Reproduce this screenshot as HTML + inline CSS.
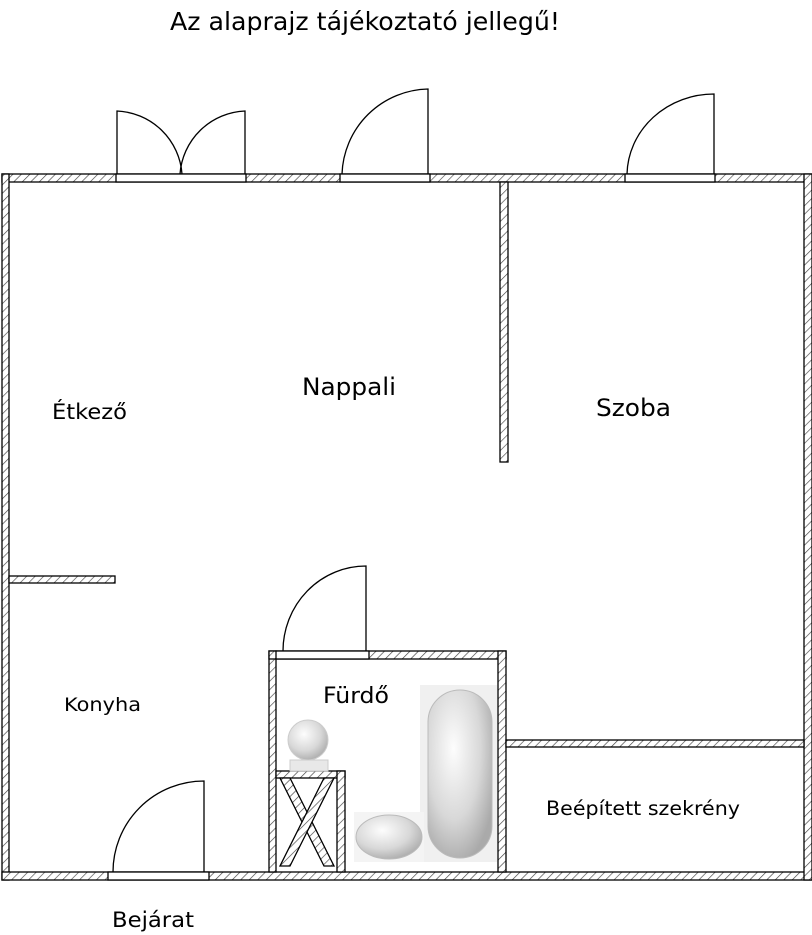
<!DOCTYPE html>
<html><head><meta charset="utf-8"><style>
html,body{margin:0;padding:0;background:#fff;}
svg{display:block}
text{font-family:"DejaVu Sans","Liberation Sans",sans-serif;fill:#000}
</style></head><body>
<svg width="812" height="935" viewBox="0 0 812 935" xmlns="http://www.w3.org/2000/svg">
<defs>
<pattern id="h" width="6" height="6" patternUnits="userSpaceOnUse" patternTransform="rotate(45)">
<rect width="6" height="6" fill="#fff"/><line x1="0" y1="0" x2="0" y2="6" stroke="#444" stroke-width="1.3"/>
</pattern>
<radialGradient id="g" cx="0.4" cy="0.35" r="0.7"><stop offset="0" stop-color="#fdfdfd"/><stop offset="0.6" stop-color="#d8d8d8"/><stop offset="1" stop-color="#aaa"/></radialGradient>
</defs>
<text x="365" y="30" font-size="25" text-anchor="middle" textLength="390" lengthAdjust="spacingAndGlyphs">Az alaprajz tájékoztató jellegű!</text>
<g fill="url(#h)" stroke="#000" stroke-width="1.3">
<rect x="2" y="174" width="810" height="8"/>
<rect x="2" y="174" width="7" height="706"/>
<rect x="2" y="872" width="810" height="8"/>
<rect x="804" y="174" width="8" height="706"/>
<rect x="500" y="182" width="8" height="280"/>
<rect x="9" y="576" width="106" height="7"/>
<rect x="269" y="651" width="7" height="221"/>
<rect x="269" y="651" width="237" height="8"/>
<rect x="498" y="651" width="8" height="221"/>
<rect x="506" y="740" width="298" height="7"/>
<rect x="276" y="771" width="69" height="7"/>
<rect x="337" y="771" width="8" height="101"/>
<polygon points="280,778 290,778 334,866 324,866"/>
<polygon points="324,778 334,778 290,866 280,866"/>
</g>
<g fill="#fff" stroke="#000" stroke-width="1.3">
<rect x="116" y="174" width="130" height="8"/>
<rect x="340" y="174" width="90" height="8"/>
<rect x="625" y="174" width="90" height="8"/>
<rect x="276" y="651" width="93" height="8"/>
<rect x="108" y="872" width="101" height="8"/>
</g>
<g fill="none" stroke="#000" stroke-width="1.3">
<path d="M117,174 V111 A68,68 0 0 1 182,174"/>
<path d="M245,174 V111 A68,68 0 0 0 180,174"/>
<path d="M428,174 V89 A88,88 0 0 0 342,174"/>
<path d="M714,174 V94 A87,82 0 0 0 627,174"/>
<path d="M366,651 V566 A83,85 0 0 0 283,651"/>
<path d="M204,872 V781 A91,91 0 0 0 113,872"/>
</g>
<rect x="420" y="685" width="77" height="177" fill="#f0f0f0"/>
<rect x="428" y="690" width="64" height="168" rx="32" fill="url(#g)" stroke="#bbb"/>
<rect x="354" y="812" width="70" height="50" fill="#f4f4f4"/>
<ellipse cx="389" cy="837" rx="33" ry="22" fill="url(#g)" stroke="#bbb"/>
<circle cx="308" cy="740" r="20" fill="url(#g)" stroke="#ccc"/>
<rect x="290" y="760" width="38" height="11" fill="#e8e8e8" stroke="#ccc"/>
<text x="52" y="419" font-size="21" textLength="75" lengthAdjust="spacingAndGlyphs">Étkező</text>
<text x="302" y="395" font-size="24" textLength="94" lengthAdjust="spacingAndGlyphs">Nappali</text>
<text x="596" y="416" font-size="24" textLength="75" lengthAdjust="spacingAndGlyphs">Szoba</text>
<text x="64" y="711" font-size="19" textLength="77" lengthAdjust="spacingAndGlyphs">Konyha</text>
<text x="323" y="703" font-size="22" textLength="66" lengthAdjust="spacingAndGlyphs">Fürdő</text>
<text x="546" y="815" font-size="19.5" textLength="194" lengthAdjust="spacingAndGlyphs">Beépített szekrény</text>
<text x="112" y="927" font-size="21" textLength="82" lengthAdjust="spacingAndGlyphs">Bejárat</text>
</svg>
</body></html>
